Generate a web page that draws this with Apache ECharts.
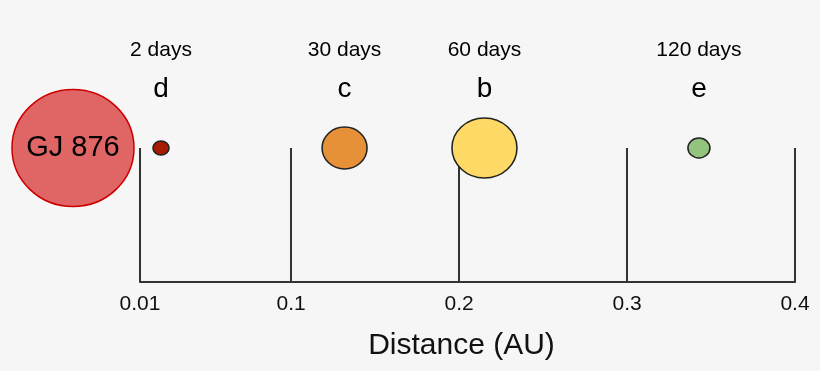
<!DOCTYPE html>
<html><head><meta charset="utf-8">
<script src="https://cdn.jsdelivr.net/npm/echarts@6/dist/echarts.min.js"></script>
<style>html,body{margin:0;padding:0;background:#f6f6f6;}#c{width:820px;height:371px;}</style>
</head><body><div id="c"></div>
<script>
var tickValues = [0.01, 0.1, 0.2, 0.3, 0.4];
var tickLabels = ['0.01', '0.1', '0.2', '0.3', '0.4'];
var planetNames = ['d', 'c', 'b', 'e'];
var planetPeriods = ['2 days', '30 days', '60 days', '120 days'];
var planetDistance = [0.0225, 0.1318, 0.2151, 0.3428];
var planetSizes = [[16, 14], [45, 42], [65, 60], [22, 20]];
var planetColors = ['#a61c00', '#e69138', '#ffd966', '#93c47d'];
var starName = 'GJ 876';
var starDistance = -0.0299;
var rowY = 1;

var chart = echarts.init(document.getElementById('c'), null, {renderer: 'canvas'});
var font = 'Liberation Sans, Arial, sans-serif';
var planetData = planetDistance.map(function (x, i) {
  return {value: [x, rowY], name: planetNames[i], symbolSize: planetSizes[i],
    itemStyle: {color: planetColors[i]}};
});
function labelSeries(texts, dy, size) {
  return {
    type: 'scatter', clip: false, symbolSize: 0, silent: true, z: 5,
    itemStyle: {opacity: 1},
    data: planetDistance.map(function (x, i) { return {value: [x, rowY], name: texts[i]}; }),
    label: {show: true, position: 'inside', offset: [0, dy], formatter: '{b}',
      color: '#000', fontSize: size, fontFamily: font}
  };
}
chart.setOption({
  backgroundColor: '#f6f6f6',
  animation: false,
  grid: {left: 140, right: 25, top: 148, bottom: 89},
  xAxis: {
    type: 'value', min: 0.01, max: 0.4,
    axisLine: {show: true, lineStyle: {color: '#333', width: 2}},
    axisTick: {show: true, inside: true, length: 134, customValues: tickValues,
      lineStyle: {color: '#333', width: 2}},
    axisLabel: {show: true, customValues: tickValues, margin: 12, fontSize: 21, color: '#111',
      fontFamily: font,
      formatter: function (v) { var i = tickValues.indexOf(v); return i >= 0 ? tickLabels[i] : ''; }},
    splitLine: {show: false},
    name: 'Distance (AU)', nameLocation: 'middle', nameGap: 49,
    nameTextStyle: {fontSize: 30, color: '#111', fontFamily: font, padding: [0, 12, 0, 0]}
  },
  yAxis: {type: 'value', min: 0, max: 1, show: false},
  series: [
    {
      type: 'scatter', clip: false, z: 3,
      data: [{value: [starDistance, rowY], name: starName}],
      symbolSize: [122, 117],
      itemStyle: {color: '#e06666', borderColor: '#cc0000', borderWidth: 1.5, opacity: 1},
      label: {show: true, position: 'inside', formatter: '{b}', fontSize: 29, color: '#000', fontFamily: font}
    },
    {
      type: 'scatter', clip: false, z: 4,
      data: planetData,
      itemStyle: {borderColor: '#222', borderWidth: 1.5, opacity: 1}
    },
    labelSeries(planetNames, -59, 28),
    labelSeries(planetPeriods, -98, 21)
  ]
});
</script></body></html>
